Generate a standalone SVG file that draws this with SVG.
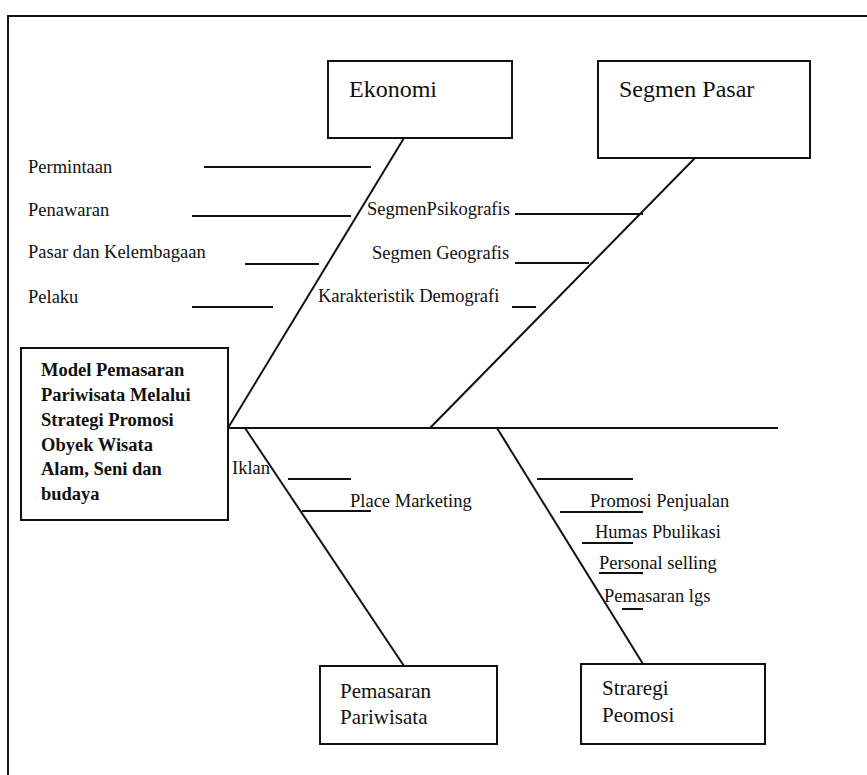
<svg xmlns="http://www.w3.org/2000/svg" width="867" height="775" viewBox="0 0 867 775">
<style>
.t{font-family:"Liberation Serif","Times New Roman",serif;font-size:18.5px;fill:#111}
.b{font-weight:bold}
.big{font-size:24px}
.mid{font-size:21px}
.box{fill:#fff;stroke:#111;stroke-width:2}
.ln{stroke:#111;stroke-width:2;fill:none}
</style>
<rect width="867" height="775" fill="#fff"/>
<path class="ln" d="M8 775 V16 H867"/>
<g id="connectors">
<line class="ln" x1="404" y1="138" x2="228" y2="428"/>
<line class="ln" x1="695" y1="158" x2="430" y2="428"/>
<line class="ln" x1="228" y1="428" x2="778" y2="428"/>
<line class="ln" x1="245" y1="428" x2="404" y2="666"/>
<line class="ln" x1="497" y1="428" x2="643" y2="664"/>
<line class="ln" x1="204" y1="167" x2="371" y2="167"/>
<line class="ln" x1="192" y1="216" x2="351" y2="216"/>
<line class="ln" x1="245" y1="264" x2="319" y2="264"/>
<line class="ln" x1="192" y1="307" x2="273" y2="307"/>
<line class="ln" x1="515" y1="214" x2="643" y2="214"/>
<line class="ln" x1="515" y1="263" x2="589" y2="263"/>
<line class="ln" x1="512" y1="307" x2="536" y2="307"/>
<line class="ln" x1="288" y1="479" x2="351" y2="479"/>
<line class="ln" x1="302" y1="511" x2="371" y2="511"/>
<line class="ln" x1="537" y1="479" x2="633" y2="479"/>
<line class="ln" x1="560" y1="512" x2="643" y2="512"/>
<line class="ln" x1="582" y1="543" x2="633" y2="543"/>
<line class="ln" x1="599" y1="573" x2="643" y2="573"/>
<line class="ln" x1="622" y1="609" x2="643" y2="609"/>
</g>
<g id="labels">
<text class="t" x="28" y="173">Permintaan</text>
<text class="t" x="28" y="216">Penawaran</text>
<text class="t" x="28" y="258">Pasar dan Kelembagaan</text>
<text class="t" x="28" y="303">Pelaku</text>
<text class="t" x="367" y="215">SegmenPsikografis</text>
<text class="t" x="372" y="259">Segmen Geografis</text>
<text class="t" x="318" y="302">Karakteristik Demografi</text>
<text class="t" x="232" y="474">Iklan</text>
<text class="t" x="350" y="507">Place Marketing</text>
<text class="t" x="590" y="507">Promosi Penjualan</text>
<text class="t" x="595" y="538">Humas Pbulikasi</text>
<text class="t" x="599" y="569">Personal selling</text>
<text class="t" x="604" y="602">Pemasaran lgs</text>
</g>
<g id="ekonomi">
<rect class="box" x="328" y="61" width="184" height="77"/>
<text class="t big" x="349" y="97">Ekonomi</text>
</g>
<g id="segmen-pasar">
<rect class="box" x="598" y="61" width="212" height="97"/>
<text class="t big" x="619" y="97">Segmen Pasar</text>
</g>
<g id="model">
<rect class="box" x="21" y="348" width="207" height="172"/>
<text class="t b" x="41" y="376">Model Pemasaran</text>
<text class="t b" x="41" y="401">Pariwisata Melalui</text>
<text class="t b" x="41" y="426">Strategi Promosi</text>
<text class="t b" x="41" y="451">Obyek Wisata</text>
<text class="t b" x="41" y="475">Alam, Seni dan</text>
<text class="t b" x="41" y="500">budaya</text>
</g>
<g id="pemasaran-pariwisata">
<rect class="box" x="320" y="666" width="177" height="78"/>
<text class="t mid" x="340" y="698">Pemasaran</text>
<text class="t mid" x="340" y="724">Pariwisata</text>
</g>
<g id="strategi-promosi">
<rect class="box" x="581" y="664" width="184" height="80"/>
<text class="t mid" x="602" y="695">Straregi</text>
<text class="t mid" x="602" y="722">Peomosi</text>
</g>
</svg>
